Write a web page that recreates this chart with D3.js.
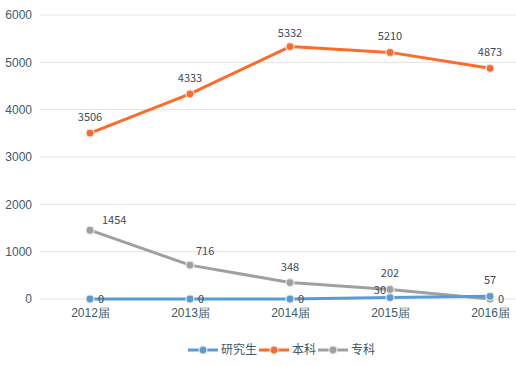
<!DOCTYPE html>
<html><head><meta charset="utf-8">
<script src="https://cdn.jsdelivr.net/npm/d3@7/dist/d3.min.js"></script>
<style>body{margin:0;background:#fff;}svg{display:block;font-family:"Noto Sans CJK SC","Noto Sans",sans-serif;}</style>
</head><body><svg id="c" width="516" height="366"></svg>
<script>
const categories = ["2012届","2013届","2014届","2015届","2016届"];
const seriesNames = ["研究生","本科","专科"];
const graduate = [0,0,0,30,57];
const undergrad = [3506,4333,5332,5210,4873];
const college = [1454,716,348,202,0];
const yTicks = [0,1000,2000,3000,4000,5000,6000];
const colors = ["#5b9bd5","#ff6a2a","#a0a0a0"];
// label offsets (layout): [dx, dy, anchor]
const labelPos = [
  [[8,4,"start"],[8,4,"start"],[8,4,"start"],[-4,-4,"end"],[0,-12,"middle"]],
  [[0,-12,"middle"],[0,-12,"middle"],[0,-10,"middle"],[0,-12,"middle"],[0,-12,"middle"]],
  [[12,-6,"start"],[6,-10,"start"],[0,-12,"middle"],[0,-12,"middle"],[8,4,"start"]]
];
const data = [graduate, undergrad, college];
const svg = d3.select("#c");
const x = d3.scalePoint().domain(categories).range([90,490]);
const y = d3.scaleLinear().domain([0,6000]).range([299,15]);
const textColor = "#3f5a6a";
svg.append("g").selectAll("line").data(yTicks).join("line")
  .attr("x1",40).attr("x2",516).attr("y1",d=>y(d)).attr("y2",d=>y(d))
  .attr("stroke","#e3e3e3").attr("stroke-width",1);
const ya = svg.append("g").attr("transform","translate(32,0)")
  .call(d3.axisLeft(y).tickValues(yTicks).tickFormat(d3.format("d")).tickSize(0).tickPadding(0));
ya.select(".domain").remove();
ya.selectAll("text").attr("fill",textColor).style("font-size","12px").style("font-family","inherit");
const xa = svg.append("g").attr("transform","translate(0,308)")
  .call(d3.axisBottom(x).tickSize(0).tickPadding(0));
xa.select(".domain").remove();
xa.selectAll("text").attr("fill",textColor).style("font-size","12px").style("font-family","inherit").attr("dy","0.71em");
const line = d3.line().x((d,i)=>x(categories[i])).y(d=>y(d));
[2,1,0].forEach(s=>{
  svg.append("path").datum(data[s]).attr("d",line).attr("fill","none")
    .attr("stroke",colors[s]).attr("stroke-width",3).attr("stroke-linejoin","round");
  svg.append("g").selectAll("circle").data(data[s]).join("circle")
    .attr("cx",(d,i)=>x(categories[i])).attr("cy",d=>y(d)).attr("r",4)
    .attr("fill",colors[s]).attr("stroke","#e8e8e8").attr("stroke-width",1.2);
});
data.forEach((arr,s)=>{
  svg.append("g").selectAll("text").data(arr).join("text")
    .attr("x",(d,i)=>x(categories[i])+labelPos[s][i][0])
    .attr("y",(d,i)=>y(d)+labelPos[s][i][1])
    .attr("text-anchor",(d,i)=>labelPos[s][i][2])
    .attr("fill","#404a5a").style("font-size","11px").text(d=>d);
});
const lx = [188,259,318];
seriesNames.forEach((n,s)=>{
  const g = svg.append("g").attr("transform",`translate(${lx[s]},350)`);
  g.append("line").attr("x1",0).attr("x2",30).attr("stroke",colors[s]).attr("stroke-width",3);
  g.append("circle").attr("cx",15).attr("r",4).attr("fill",colors[s]).attr("stroke","#e8e8e8").attr("stroke-width",1.2);
  g.append("text").attr("x",33).attr("dy","0.35em").attr("fill",textColor).style("font-size","12px").text(n);
});
</script></body></html>
